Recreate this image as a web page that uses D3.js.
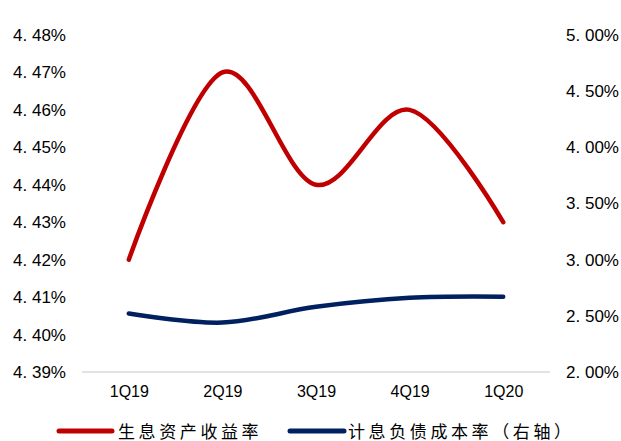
<!DOCTYPE html>
<html>
<head>
<meta charset="utf-8">
<script src="https://cdn.jsdelivr.net/npm/d3@7/dist/d3.min.js"></script>
<style>
  html, body { margin: 0; padding: 0; background: #fff; }
  svg { display: block; }
</style>
</head>
<body>
<svg id="chart" width="621" height="441"></svg>
<script>
const categories = ["1Q19", "2Q19", "3Q19", "4Q19", "1Q20"];
const assetYield = [4.42, 4.47, 4.44, 4.46, 4.43];      // 生息资产收益率 (left axis, %)
const liabilityCost = [2.52, 2.44, 2.58, 2.66, 2.67];   // 计息负债成本率 (right axis, %)
const leftTicks = [4.39, 4.40, 4.41, 4.42, 4.43, 4.44, 4.45, 4.46, 4.47, 4.48];
const rightTicks = [2.0, 2.5, 3.0, 3.5, 4.0, 4.5, 5.0];
const seriesNames = ["生息资产收益率", "计息负债成本率（右轴）"];
const colors = ["#C00000", "#002060"];

(function () {
const svg = d3.select("#chart");
const plotTop = 35, plotBottom = 372, plotLeft = 82, plotRight = 550;

const x = d3.scalePoint().domain(categories).range([plotLeft, plotRight]).padding(0.5);
const yL = d3.scaleLinear().domain([4.39, 4.48]).range([plotBottom, plotTop]);
const yR = d3.scaleLinear().domain([2.0, 5.0]).range([plotBottom, plotTop]);

const fmt = d => d.toFixed(2).replace(".", ". ") + "%";

// baseline gridline
svg.append("line")
  .attr("x1", plotLeft).attr("x2", plotRight)
  .attr("y1", plotBottom).attr("y2", plotBottom)
  .attr("stroke", "#d9d9d9").attr("stroke-width", 1.5);

// left axis
const gL = svg.append("g").attr("transform", "translate(66,0)")
  .call(d3.axisLeft(yL).tickValues(leftTicks).tickFormat(fmt).tickSize(0).tickPadding(0));
gL.select(".domain").remove();
gL.selectAll("text").attr("font-family", "'Liberation Sans', Arial, sans-serif")
  .attr("font-size", 17).attr("fill", "#000");

// right axis
const gR = svg.append("g").attr("transform", "translate(619,0)")
  .call(d3.axisLeft(yR).tickValues(rightTicks).tickFormat(fmt).tickSize(0).tickPadding(0));
gR.select(".domain").remove();
gR.selectAll("text").attr("font-family", "'Liberation Sans', Arial, sans-serif")
  .attr("font-size", 17).attr("fill", "#000");

// x axis labels
const gX = svg.append("g").attr("transform", `translate(0,${plotBottom})`)
  .call(d3.axisBottom(x).tickSize(0).tickPadding(14));
gX.select(".domain").remove();
gX.selectAll("text").attr("font-family", "'Liberation Sans', Arial, sans-serif")
  .attr("font-size", 16).attr("fill", "#000");

// lines
const curve = d3.curveCatmullRom.alpha(0);
const lineL = d3.line().x((d, i) => x(categories[i])).y(d => yL(d)).curve(curve);
const lineR = d3.line().x((d, i) => x(categories[i])).y(d => yR(d)).curve(curve);

svg.append("path").datum(liabilityCost)
  .attr("d", lineR).attr("fill", "none")
  .attr("stroke", colors[1]).attr("stroke-width", 4.5)
  .attr("stroke-linecap", "round").attr("stroke-linejoin", "round");

svg.append("path").datum(assetYield)
  .attr("d", lineL).attr("fill", "none")
  .attr("stroke", colors[0]).attr("stroke-width", 4.5)
  .attr("stroke-linecap", "round").attr("stroke-linejoin", "round");

// legend
const legendItems = [
  { name: seriesNames[0], color: colors[0], x1: 59, x2: 112, tx: 118 },
  { name: seriesNames[1], color: colors[1], x1: 290, x2: 344, tx: 348 }
];
const lg = svg.append("g");
legendItems.forEach(it => {
  lg.append("line").attr("x1", it.x1).attr("x2", it.x2)
    .attr("y1", 431).attr("y2", 431)
    .attr("stroke", it.color).attr("stroke-width", 5).attr("stroke-linecap", "round");
  lg.append("text").attr("x", it.tx).attr("y", 437.5)
    .attr("font-family", "'Noto Sans CJK SC', sans-serif")
    .attr("font-size", 17).attr("font-weight", 400)
    .attr("letter-spacing", "3.6px")
    .attr("fill", "#000").text(it.name);
});
})();
</script>
</body>
</html>
